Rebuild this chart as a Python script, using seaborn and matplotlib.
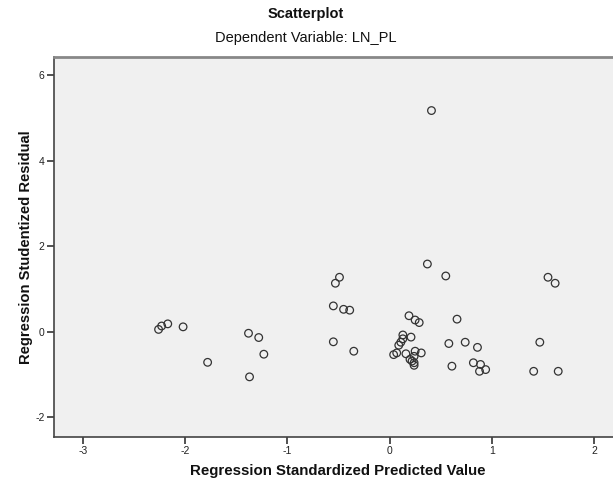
import matplotlib
matplotlib.use("Agg")
import matplotlib.pyplot as plt
import seaborn as sns
import pandas as pd

# ---- data ----
pred = [-2.26, -2.23, -2.17, -2.02, -1.78, -1.38, -1.28, -1.23, -1.37,
        -0.49, -0.53, 0.37, 0.55, 1.55, 1.62, -0.55, -0.45, -0.39, 0.19, 0.25, 0.29, 0.66, -0.55, -0.35,
        0.13, 0.21, 0.13, 0.11, 0.09, 0.07, 0.04, 0.16, 0.25, 0.31, 0.24, 0.22, 0.24, 0.20, 0.24,
        0.58, 0.74, 0.86, 0.61, 0.82, 0.89, 0.94, 0.88, 1.47, 1.41, 1.65,
        0.41]
resid = [0.05, 0.13, 0.18, 0.11, -0.72, -0.04, -0.14, -0.53, -1.06,
         1.27, 1.13, 1.58, 1.30, 1.27, 1.13, 0.60, 0.52, 0.50, 0.37, 0.27, 0.21, 0.29, -0.24, -0.46,
         -0.08, -0.13, -0.17, -0.25, -0.32, -0.50, -0.54, -0.52, -0.46, -0.50, -0.58, -0.69, -0.73, -0.65, -0.79,
         -0.28, -0.25, -0.37, -0.81, -0.73, -0.77, -0.89, -0.93, -0.25, -0.93, -0.93,
         5.17]
x_ticks = [-3, -2, -1, 0, 1, 2]
y_ticks = [-2, 0, 2, 4, 6]

title = "Scatterplot"
subtitle = "Dependent Variable: LN_PL"
x_label = "Regression Standardized Predicted Value"
y_label = "Regression Studentized Residual"

df = pd.DataFrame({"pred": pred, "resid": resid})

sns.set_style("white")
plt.rcParams["font.family"] = ["Liberation Sans", "DejaVu Sans"]

W, H = 613, 486
fig = plt.figure(figsize=(W / 100, H / 100), dpi=100)
ax = fig.add_axes([54.3 / W, 1 - 436.7 / H, (W - 54.3) / W, 380 / H])
ax.set_facecolor("#f0f0f0")

sns.scatterplot(data=df, x="pred", y="resid", ax=ax, marker="o", s=30,
                facecolor="none", edgecolor="#333333", linewidth=0.9, zorder=3)

ax.set_xlim(-3.28, 2.186)
ax.set_ylim(-2.46, 6.43)
ax.set_xticks(x_ticks)
ax.set_yticks(y_ticks)
ax.set_xticklabels([str(t) for t in x_ticks])
ax.set_yticklabels([str(t) for t in y_ticks])
ax.tick_params(axis="both", direction="out", length=5, width=1.2, color="#333333",
               labelsize=7.5, labelcolor="#222222", pad=2, left=True, bottom=True)

for side in ["left", "bottom"]:
    ax.spines[side].set_color("#444444")
    ax.spines[side].set_linewidth(1.2)
ax.spines["top"].set_color("#888888")
ax.spines["top"].set_linewidth(2)
ax.spines["right"].set_visible(False)

ax.set_xlabel("")
ax.set_ylabel("")
fig.text(26.5 / W, 1 - 247.5 / H, y_label, ha="center", va="center", rotation=90,
         fontsize=10.6, fontweight="bold", color="#111111")
fig.text(338 / W, 1 - 471 / H, x_label, ha="center", va="center",
         fontsize=10.8, fontweight="bold", color="#111111")
fig.text(306 / W, 1 - 14 / H, title, ha="center", va="center",
         fontsize=10.5, fontweight="bold", color="#111111")
fig.text(306 / W, 1 - 38 / H, subtitle, ha="center", va="center",
         fontsize=10.5, color="#111111")

fig.savefig("out.png", dpi=100)
